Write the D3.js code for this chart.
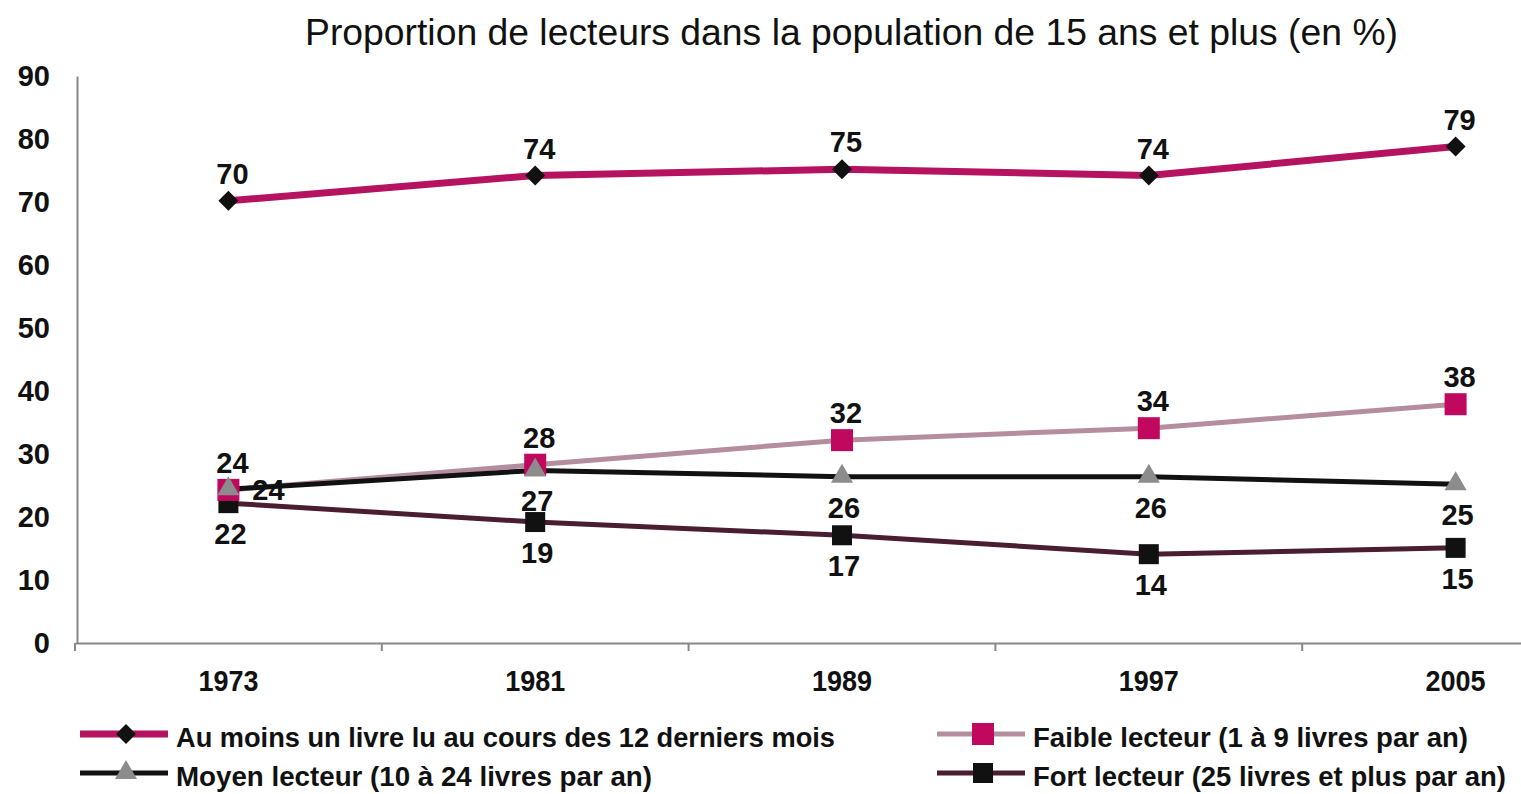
<!DOCTYPE html>
<html>
<head>
<meta charset="utf-8">
<script src="https://cdn.jsdelivr.net/npm/d3@7"></script>
<style>
  body { margin: 0; background: #fff; }
  svg { display: block; }
</style>
</head>
<body>
<div id="chart"></div>
<script>
var years = ["1973", "1981", "1989", "1997", "2005"]
var auMoins = [70.2, 74.2, 75.2, 74.2, 78.8]
var faible = [24.3, 28.3, 32.2, 34.1, 37.9]
var moyen = [24.4, 27.4, 26.4, 26.4, 25.2]
var fort = [22.2, 19.2, 17.1, 14.1, 15.1]
var yTicks = [0, 10, 20, 30, 40, 50, 60, 70, 80, 90]

var W = 1521, H = 794
var svg = d3.select('#chart').append('svg')
    .attr('width', W)
    .attr('height', H)

var font = "'Liberation Sans', Arial, sans-serif"

var x = d3.scaleBand().domain(years).range([75, 1609])
var y = d3.scaleLinear().domain([0, 90]).range([643, 76])
var cx = function(d) { return x(d) + x.bandwidth() / 2 }

// title, condensed by squeezing into the width it has in the original
svg.append('text')
    .attr('x', 305).attr('y', 45)
    .attr('textLength', 1093)
    .attr('lengthAdjust', 'spacingAndGlyphs')
    .style('font-family', font)
    .style('font-size', '36px')
    .attr('fill', '#111')
    .text('Proportion de lecteurs dans la population de 15 ans et plus (en %)')

// axes
var xAxis = svg.append('g')
    .attr('transform', 'translate(0,643)')
    .call(d3.axisBottom(x).tickSize(0).tickFormat(''))
xAxis.select('.domain').attr('stroke', '#888').attr('stroke-width', 2)
var tickPos = d3.range(years.length + 1).map(function(i) { return 75 + i * x.bandwidth() })
xAxis.selectAll('line.sep').data(tickPos).enter().append('line')
    .attr('class', 'sep')
    .attr('x1', function(d) { return d }).attr('x2', function(d) { return d })
    .attr('y1', 0).attr('y2', 8)
    .attr('stroke', '#888').attr('stroke-width', 2)
svg.selectAll('text.xl').data(years).enter().append('text')
    .attr('class', 'xl')
    .attr('x', cx).attr('y', 691)
    .attr('text-anchor', 'middle')
    .attr('textLength', 60)
    .attr('lengthAdjust', 'spacingAndGlyphs')
    .style('font-family', font).style('font-weight', 'bold').style('font-size', '29px')
    .attr('fill', '#111')
    .text(function(d) { return d })

var yAxis = svg.append('g')
    .attr('transform', 'translate(77,0)')
    .call(d3.axisLeft(y).tickValues(yTicks).tickSize(0).tickPadding(27))
yAxis.select('.domain').attr('stroke', '#888').attr('stroke-width', 2)
yAxis.selectAll('text')
    .style('font-family', font).style('font-weight', 'bold').style('font-size', '29px')
    .attr('fill', '#111')

var series = [
  { name: 'Au moins un livre lu au cours des 12 derniers mois', values: auMoins, line: '#b5125f', width: 7, marker: 'diamond', mfill: '#111', lab: 'above', tl: 659 },
  { name: 'Faible lecteur (1 à 9 livres par an)', values: faible, line: '#b48e9f', width: 5, marker: 'square', mfill: '#c0095e', msize: 22, lab: 'above', tl: 435 },
  { name: 'Moyen lecteur (10 à 24 livres par an)', values: moyen, line: '#111', width: 5, marker: 'triangle', mfill: '#8c8c8c', lab: 'below', tl: 476 },
  { name: 'Fort lecteur (25 livres et plus par an)', values: fort, line: '#4a1d33', width: 5, marker: 'square', mfill: '#111', msize: 20, lab: 'below', tl: 473 }
]

var line = d3.line()
    .x(function(d, i) { return cx(years[i]) })
    .y(function(d) { return y(d) })

function drawMarker(g, s, px, py) {
  if (s.marker == 'diamond') {
    g.append('path')
      .attr('d', 'M' + px + ',' + (py - 10) + 'L' + (px + 10) + ',' + py + 'L' + px + ',' + (py + 10) + 'L' + (px - 10) + ',' + py + 'Z')
      .attr('fill', s.mfill)
  } else if (s.marker == 'square') {
    var h = s.msize / 2
    g.append('rect')
      .attr('x', px - h).attr('y', py - h)
      .attr('width', s.msize).attr('height', s.msize)
      .attr('fill', s.mfill)
  } else {
    g.append('path')
      .attr('d', 'M' + px + ',' + (py - 13) + 'L' + (px + 11) + ',' + (py + 6) + 'L' + (px - 11) + ',' + (py + 6) + 'Z')
      .attr('fill', s.mfill)
  }
}

// lines back to front like the original
var order = [3, 1, 2, 0]
order.forEach(function(k) {
  var s = series[k]
  svg.append('path')
    .datum(s.values)
    .attr('d', line)
    .attr('fill', 'none')
    .attr('stroke', s.line)
    .attr('stroke-width', s.width)
})
order.forEach(function(k) {
  var s = series[k]
  var g = svg.append('g')
  s.values.forEach(function(v, i) {
    drawMarker(g, s, cx(years[i]), y(v))
  })
})

// data labels
series.forEach(function(s, k) {
  svg.selectAll('text.lab' + k).data(s.values).enter().append('text')
    .attr('class', 'lab' + k)
    .attr('x', function(d, i) {
      if (k == 2 && i == 0) return cx(years[i]) + 40
      return cx(years[i]) + (k == 0 || k == 1 ? 4 : 2)
    })
    .attr('y', function(d, i) {
      if (k == 2 && i == 0) return y(d) + 11
      return s.lab == 'above' ? y(d) - 17 : y(d) + 41
    })
    .attr('text-anchor', 'middle')
    .style('font-family', font).style('font-weight', 'bold').style('font-size', '29px')
    .attr('fill', '#111')
    .text(function(d) { return Math.round(d) })
})

// legend
var legPos = [
  { x: 80, y: 739 }, { x: 937, y: 739 }, { x: 80, y: 778 }, { x: 937, y: 778 }
]
series.forEach(function(s, k) {
  var p = legPos[k]
  var g = svg.append('g')
  g.append('line')
    .attr('x1', p.x).attr('x2', p.x + 88)
    .attr('y1', p.y - 5).attr('y2', p.y - 5)
    .attr('stroke', s.line).attr('stroke-width', s.width)
  drawMarker(g, s, p.x + 46, p.y - 5)
  g.append('text')
    .attr('x', p.x + 96).attr('y', p.y + 8)
    .attr('textLength', s.tl)
    .attr('lengthAdjust', 'spacingAndGlyphs')
    .style('font-family', font).style('font-weight', 'bold').style('font-size', '28px')
    .attr('fill', '#111')
    .text(s.name)
})
</script>
</body>
</html>
